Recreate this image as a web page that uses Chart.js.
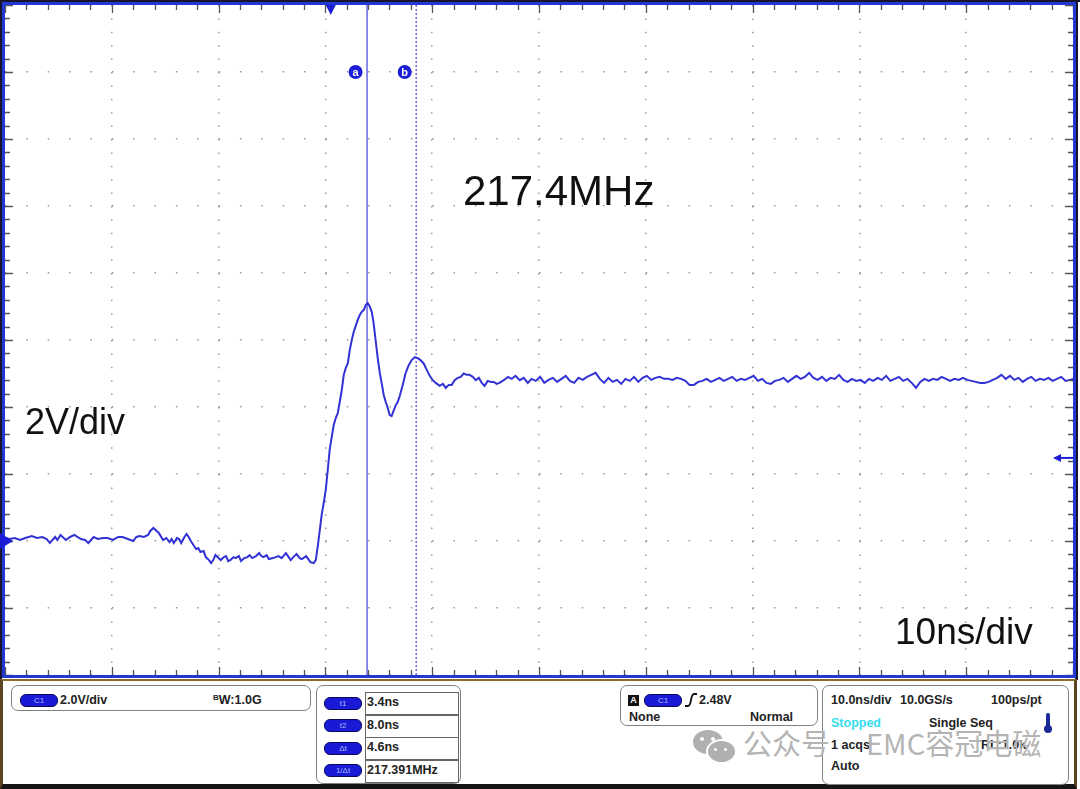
<!DOCTYPE html>
<html>
<head>
<meta charset="utf-8">
<script src="https://cdn.jsdelivr.net/npm/chart.js@4/dist/chart.umd.min.js"></script>
<style>
  body { margin: 0; background: #fff; }
  #wrap { position: relative; width: 1080px; height: 789px; overflow: hidden; background: #fff; }
  #scope { position: absolute; left: 0; top: 0; }
  .big { position: absolute; font-family: "Liberation Sans", Arial, sans-serif; color: #111; line-height: 1; white-space: nowrap; }
  #panel { position: absolute; left: 0; top: 679px; width: 1071px; height: 103px; border-left: 3px solid #5a4520; border-right: 3px solid #5a4520; border-top: 2px solid #8a6a30; border-bottom: 5px solid #151515; background: #fff; }
  .box { position: absolute; border: 1.5px solid #808080; border-radius: 7px; }
  .t { position: absolute; font-family: "Liberation Sans", Arial, sans-serif; font-weight: bold; font-size: 12.5px; line-height: 1; color: #222; white-space: nowrap; }
  .pill { position: absolute; width: 36px; height: 11px; border-radius: 6px; background: #1a1ad6; border: 1px solid #0a0a60; color: #a8b8ff; font-family: "Liberation Sans", Arial, sans-serif; font-size: 8px; line-height: 11px; text-align: center; }
  .cell { position: absolute; left: 365px; width: 92px; border: 1px solid #666; }
  .wm { position: absolute; font-family: "Noto Sans CJK SC", sans-serif; font-size: 29px; line-height: 1; color: #b4b4b4; white-space: nowrap; }
</style>
</head>
<body>
<div id="wrap">
  <canvas id="scope" width="1080" height="680"></canvas>

  <div class="big" style="left:463px; top:170px; font-size:42px;">217.4MHz</div>
  <div class="big" style="left:25px; top:404px; font-size:36px;">2V/div</div>
  <div class="big" style="left:895px; top:613px; font-size:37px;">10ns/div</div>

  <div id="panel"></div>

  <!-- channel box -->
  <div class="box" style="left:11px; top:685px; width:298px; height:24px;"></div>
  <div class="pill" style="left:20px; top:694px;">C1</div>
  <div class="t" style="left:60px; top:694px;">2.0V/div</div>
  <div class="t" style="left:213px; top:694px;"><span style="font-size:8px; vertical-align:4px;">B</span>W:1.0G</div>

  <!-- cursor box -->
  <div class="box" style="left:316px; top:685px; width:143px; height:97px;"></div>
  <div class="cell" style="top:692px; height:22px;"></div>
  <div class="cell" style="top:714px; height:22px;"></div>
  <div class="cell" style="top:737px; height:22px;"></div>
  <div class="cell" style="top:759px; height:22px;"></div>
  <div class="pill" style="left:324px; top:697px;">t1</div>
  <div class="pill" style="left:324px; top:719px;">t2</div>
  <div class="pill" style="left:324px; top:742px;">Δt</div>
  <div class="pill" style="left:324px; top:764px;">1/Δt</div>
  <div class="t" id="c1" style="left:367px; top:696px;"></div>
  <div class="t" id="c2" style="left:367px; top:719px;"></div>
  <div class="t" id="c3" style="left:367px; top:741px;"></div>
  <div class="t" id="c4" style="left:367px; top:764px;"></div>

  <!-- trigger box -->
  <div class="box" style="left:620px; top:685px; width:196px; height:39px;"></div>
  <div style="position:absolute; left:628px; top:695px; width:11px; height:11px; background:#111; color:#fff; font:bold 9px 'Liberation Sans',Arial,sans-serif; line-height:11px; text-align:center;">A</div>
  <div class="pill" style="left:644px; top:694px;">C1</div>
  <svg style="position:absolute; left:684px; top:693px;" width="14" height="14"><path d="M1,13 L4,13 Q6,13 7,7 Q8,1 10,1 L13,1" stroke="#111" stroke-width="1.8" fill="none"/></svg>
  <div class="t" style="left:699px; top:694px;">2.48V</div>
  <div class="t" style="left:629px; top:711px;">None</div>
  <div class="t" style="left:750px; top:711px;">Normal</div>

  <!-- timebase box -->
  <div class="box" style="left:822px; top:685px; width:245px; height:98px;"></div>
  <div class="t" style="left:831px; top:694px;">10.0ns/div</div>
  <div class="t" style="left:900px; top:694px;">10.0GS/s</div>
  <div class="t" style="left:991px; top:694px;">100ps/pt</div>
  <div class="t" style="left:831px; top:717px; color:#33ddee;">Stopped</div>
  <div class="t" style="left:929px; top:717px;">Single Seq</div>
  <div style="position:absolute; left:1046px; top:713px; width:4px; height:15px; background:#1a2a9a; border-radius:2px;"></div>
  <div style="position:absolute; left:1044px; top:725px; width:8px; height:8px; background:#1a2a9a; border-radius:50%;"></div>
  <div class="t" style="left:831px; top:739px;">1 acqs</div>
  <div class="t" style="left:981px; top:739px;">RL:1.0k</div>
  <div class="t" style="left:831px; top:760px;">Auto</div>

  <!-- watermark -->
  <div style="position:absolute; left:693px; top:730px; width:30px; height:24px; border-radius:50%; background:#b0b0b0;"></div>
  <div style="position:absolute; left:706px; top:739px; width:27px; height:21px; border-radius:50%; background:#b0b0b0; border:2px solid #fff;"></div>
  <div style="position:absolute; left:700px; top:737px; width:4px; height:4px; border-radius:50%; background:#fff;"></div>
  <div style="position:absolute; left:711px; top:737px; width:4px; height:4px; border-radius:50%; background:#fff;"></div>
  <div style="position:absolute; left:714px; top:748px; width:3px; height:3px; border-radius:50%; background:#fff;"></div>
  <div style="position:absolute; left:724px; top:748px; width:3px; height:3px; border-radius:50%; background:#fff;"></div>
  <div class="wm" style="left:743px; top:728px;">公众号</div>
  <div class="wm" style="left:866px; top:728px;">EMC容冠电磁</div>
</div>

<script>
// scope settings (10 div x 10ns, 10 div x 2V)
const xDivs = [-30.5, -20.5, -10.5, -0.5, 9.5, 19.5, 29.5, 39.5, 49.5, 59.5, 69.5];
const yDivs = [-4, -2, 0, 2, 4, 6, 8, 10, 12, 14, 16];
const cursorTimes = [3.4, 8.0];
const cursorNames = ['a', 'b'];
const cursorReadout = ['3.4ns', '8.0ns', '4.6ns', '217.391MHz'];
const trigTime = 0;
const trigLevel = 2.48;
const groundLevel = 0;

// waveform: before the edge, edge and ringing (ns, V)
const edgeTimes = [-30.5, -30.06, -29.6, -29.1, -28.6, -28.0, -27.5, -27.0, -26.6, -26.3, -25.8, -25.6, -25.3, -24.8, -24.4, -24.0, -23.4, -23.0, -22.7, -22.2, -21.8, -21.3, -20.9, -20.4, -19.9, -19.5, -19.0, -18.5, -18.2, -17.9, -17.5, -17.1, -16.9, -16.6, -16.4, -16.1, -15.7, -15.4, -15.1, -14.9, -14.7, -14.4, -14.2, -14.0, -13.7, -13.5, -13.3, -13.1, -12.8, -12.6, -12.4, -12.2, -11.9, -11.7, -11.4, -11.2, -11.0, -10.8, -10.5, -10.3, -10.0, -9.8, -9.6, -9.4, -9.1, -8.9, -8.6, -8.4, -8.1, -7.8, -7.6, -7.35, -7.0, -6.7, -6.5, -6.3, -6.0, -5.8, -5.4, -5.15, -4.9, -4.6, -4.2, -4.0, -3.75, -3.5, -3.2, -2.9, -2.7, -2.3, -2.1, -1.9, -1.6, -1.4, -1.2, -1.0, -0.85, -0.66, -0.47, -0.28, -0.1, 0.09, 0.28, 0.47, 0.66, 0.84, 1.03, 1.22, 1.4, 1.6, 1.78, 1.97, 2.15, 2.34, 2.53, 2.72, 2.9, 3.1, 3.28, 3.46, 3.65, 3.84, 4.0, 4.2, 4.4, 4.6, 4.8, 4.96, 5.15, 5.34, 5.52, 5.7, 5.9, 6.1, 6.27, 6.46, 6.74, 7.0, 7.3, 7.58, 7.87, 8.15, 8.4, 8.7, 9.0, 9.27, 9.55, 9.83, 10.2, 10.5, 10.77, 11.05, 11.33, 11.6, 11.9, 12.17, 12.45, 12.73, 13.0, 13.3, 13.58, 13.86, 14.14, 14.4, 14.7, 15.0, 15.26, 15.54, 15.8, 16.2, 16.6, 16.95, 17.3, 17.7, 18.07, 18.45];
const edgeVolts = [0.09, 0.06, 0.09, 0.03, 0.09, 0.15, 0.09, 0.12, 0.06, -0.06, 0.12, 0.03, 0.18, 0.03, 0.12, 0.18, 0.06, 0.03, -0.06, 0.12, 0.06, 0.09, 0.09, 0.03, 0.12, 0.12, 0.06, 0.0, 0.12, 0.15, 0.12, 0.18, 0.3, 0.39, 0.33, 0.24, 0.03, 0.09, -0.03, 0.06, -0.06, 0.09, 0.06, -0.06, 0.12, 0.21, 0.12, 0.0, -0.15, -0.24, -0.21, -0.33, -0.3, -0.48, -0.57, -0.66, -0.57, -0.42, -0.51, -0.57, -0.48, -0.45, -0.6, -0.57, -0.48, -0.51, -0.45, -0.6, -0.51, -0.48, -0.42, -0.51, -0.45, -0.36, -0.45, -0.48, -0.42, -0.54, -0.51, -0.48, -0.45, -0.51, -0.36, -0.45, -0.57, -0.48, -0.39, -0.51, -0.54, -0.45, -0.54, -0.63, -0.66, -0.57, -0.12, 0.39, 0.78, 1.13, 1.52, 2.12, 2.72, 3.1, 3.46, 3.67, 3.82, 4.15, 4.5, 4.96, 5.16, 5.31, 5.7, 6.0, 6.24, 6.42, 6.6, 6.75, 6.84, 6.9, 7.04, 7.1, 7.0, 6.84, 6.54, 6.0, 5.46, 5.0, 4.66, 4.36, 4.15, 3.97, 3.76, 3.73, 3.9, 4.06, 4.15, 4.33, 4.66, 5.0, 5.25, 5.4, 5.49, 5.46, 5.4, 5.3, 5.1, 4.93, 4.8, 4.72, 4.63, 4.69, 4.57, 4.66, 4.66, 4.8, 4.87, 4.9, 5.0, 4.96, 4.96, 4.9, 4.8, 4.87, 4.72, 4.63, 4.78, 4.75, 4.75, 4.69, 4.72, 4.8, 4.9, 4.84, 4.93, 4.8, 4.87, 4.72];

// settled part, one reading every 0.4ns from 18.8ns
const tailStart = 18.8;
const tailStep = 0.4;
const tailVolts = [4.84, 4.78, 4.9, 4.72, 4.81, 4.87, 4.75, 4.84, 4.93, 4.78, 4.72, 4.87, 4.81, 4.9, 4.96, 5.02, 4.84, 4.72, 4.87, 4.75, 4.81, 4.69, 4.84, 4.78, 4.9, 4.75, 4.87, 4.93, 4.81, 4.87, 4.9, 4.84, 4.84, 4.81, 4.87, 4.84, 4.78, 4.66, 4.66, 4.75, 4.78, 4.84, 4.75, 4.81, 4.87, 4.78, 4.84, 4.9, 4.78, 4.84, 4.81, 4.87, 4.93, 4.78, 4.84, 4.72, 4.69, 4.78, 4.81, 4.87, 4.75, 4.84, 4.93, 4.84, 4.9, 5.02, 4.87, 4.81, 4.9, 4.78, 4.87, 4.84, 4.96, 4.81, 4.75, 4.84, 4.78, 4.81, 4.72, 4.84, 4.78, 4.87, 4.81, 4.93, 4.78, 4.84, 4.9, 4.78, 4.84, 4.72, 4.57, 4.75, 4.84, 4.78, 4.84, 4.81, 4.9, 4.84, 4.78, 4.84, 4.81, 4.87, 4.81, 4.78, 4.75, 4.72, 4.72, 4.75, 4.81, 4.87, 4.96, 4.84, 4.93, 4.81, 4.87, 4.75, 4.84, 4.9, 4.78, 4.84, 4.81, 4.87, 4.78, 4.84, 4.9, 4.78, 4.81, 4.84];

const trace = edgeTimes.map((t, i) => ({ x: t, y: edgeVolts[i] }));
tailVolts.forEach((v, i) => trace.push({ x: tailStart + i * tailStep, y: v }));

['c1', 'c2', 'c3', 'c4'].forEach((id, i) => {
  document.getElementById(id).textContent = cursorReadout[i];
});

const frameBlue = '#2238d0';
const markBlue = '#1d1dd6';

// border ticks, frame and scope markers
const scopeDecor = {
  id: 'scopeDecor',
  beforeDraw(chart) {
    const c = chart.ctx;
    c.save();
    c.fillStyle = '#fff';
    c.fillRect(0, 0, chart.width, chart.height);
    c.restore();
  },
  afterDraw(chart) {
    const c = chart.ctx;
    const a = chart.chartArea;
    const xs = chart.scales.x;
    const ys = chart.scales.y;
    c.save();

    // minor ticks on all four sides, 5 per division
    c.strokeStyle = '#555';
    c.lineWidth = 1.3;
    const xStep = (xDivs[1] - xDivs[0]) / 5;
    for (let k = 0; k <= 50; k++) {
      const px = Math.round(xs.getPixelForValue(xDivs[0] + k * xStep)) + 0.5;
      const len = k % 5 === 0 ? 8 : 5;
      c.beginPath();
      c.moveTo(px, a.top); c.lineTo(px, a.top + len);
      c.moveTo(px, a.bottom); c.lineTo(px, a.bottom - len);
      c.stroke();
    }
    const yStep = (yDivs[1] - yDivs[0]) / 5;
    for (let k = 0; k <= 50; k++) {
      const py = Math.round(ys.getPixelForValue(yDivs[0] + k * yStep)) + 0.5;
      const len = k % 5 === 0 ? 8 : 5;
      c.beginPath();
      c.moveTo(a.left, py); c.lineTo(a.left + len, py);
      c.moveTo(a.right, py); c.lineTo(a.right - len, py);
      c.stroke();
    }

    // outer dark edge and blue frame
    c.fillStyle = '#151530';
    c.fillRect(0, 0, chart.width, 2);
    c.fillRect(0, 0, 2, chart.height);
    c.fillRect(a.right + 2, 0, 3, chart.height);
    c.strokeStyle = frameBlue;
    c.lineWidth = 3;
    c.strokeRect(a.left - 1.5, a.top - 1.5, a.right - a.left + 3, a.bottom - a.top + 3);

    c.fillStyle = markBlue;
    // trigger position marker
    const tx = xs.getPixelForValue(trigTime);
    c.beginPath();
    c.moveTo(tx - 5, a.top); c.lineTo(tx + 5, a.top); c.lineTo(tx, a.top + 10);
    c.closePath(); c.fill();

    // channel ground marker
    const gy = ys.getPixelForValue(groundLevel);
    c.beginPath();
    c.moveTo(0, gy - 8); c.lineTo(13, gy); c.lineTo(0, gy + 8);
    c.closePath(); c.fill();

    // trigger level arrow
    const ly = ys.getPixelForValue(trigLevel);
    c.beginPath();
    c.moveTo(a.right - 20, ly); c.lineTo(a.right - 12, ly - 4); c.lineTo(a.right - 12, ly + 4);
    c.closePath(); c.fill();
    c.strokeStyle = markBlue;
    c.lineWidth = 2;
    c.beginPath();
    c.moveTo(a.right - 13, ly); c.lineTo(a.right, ly);
    c.stroke();

    // cursor labels
    const labY = ys.getPixelForValue(yDivs[9]);
    cursorTimes.forEach((t, i) => {
      const cx = xs.getPixelForValue(t) - 11.5;
      c.fillStyle = markBlue;
      c.beginPath();
      c.arc(cx, labY, 7, 0, Math.PI * 2);
      c.fill();
      c.fillStyle = '#fff';
      c.font = 'bold 11px "Liberation Sans", Arial, sans-serif';
      c.textAlign = 'center';
      c.textBaseline = 'middle';
      c.fillText(cursorNames[i], cx, labY + 0.5);
    });
    c.restore();
  }
};

const ctx = document.getElementById('scope');

new Chart(ctx, {
  type: 'line',
  data: {
    datasets: [
      {
        data: trace,
        borderColor: '#3232d4',
        borderWidth: 2,
        pointRadius: 0,
        tension: 0
      },
      {
        data: [{ x: cursorTimes[0], y: yDivs[0] }, { x: cursorTimes[0], y: yDivs[10] }],
        borderColor: '#4f4fde',
        borderWidth: 1.3,
        pointRadius: 0
      },
      {
        data: [{ x: cursorTimes[1], y: yDivs[0] }, { x: cursorTimes[1], y: yDivs[10] }],
        borderColor: '#4f4fde',
        borderWidth: 1.3,
        borderDash: [2, 2],
        pointRadius: 0
      }
    ]
  },
  options: {
    responsive: false,
    animation: false,
    layout: { padding: { left: 5, top: 5, right: 7, bottom: 5 } },
    plugins: {
      legend: { display: false },
      tooltip: { enabled: false }
    },
    scales: {
      x: {
        type: 'linear',
        min: xDivs[0],
        max: xDivs[10],
        afterBuildTicks: s => { s.ticks = xDivs.map(v => ({ value: v })); },
        ticks: { display: false },
        grid: { color: '#9a9a9a', lineWidth: 1.5, drawTicks: false },
        border: { display: false, dash: [1.5, 11.9] }
      },
      y: {
        min: yDivs[0],
        max: yDivs[10],
        afterBuildTicks: s => { s.ticks = yDivs.map(v => ({ value: v })); },
        ticks: { display: false },
        grid: { color: '#9a9a9a', lineWidth: 1.5, drawTicks: false },
        border: { display: false, dash: [1.5, 19.86] }
      }
    }
  },
  plugins: [scopeDecor]
});
</script>
</body>
</html>
